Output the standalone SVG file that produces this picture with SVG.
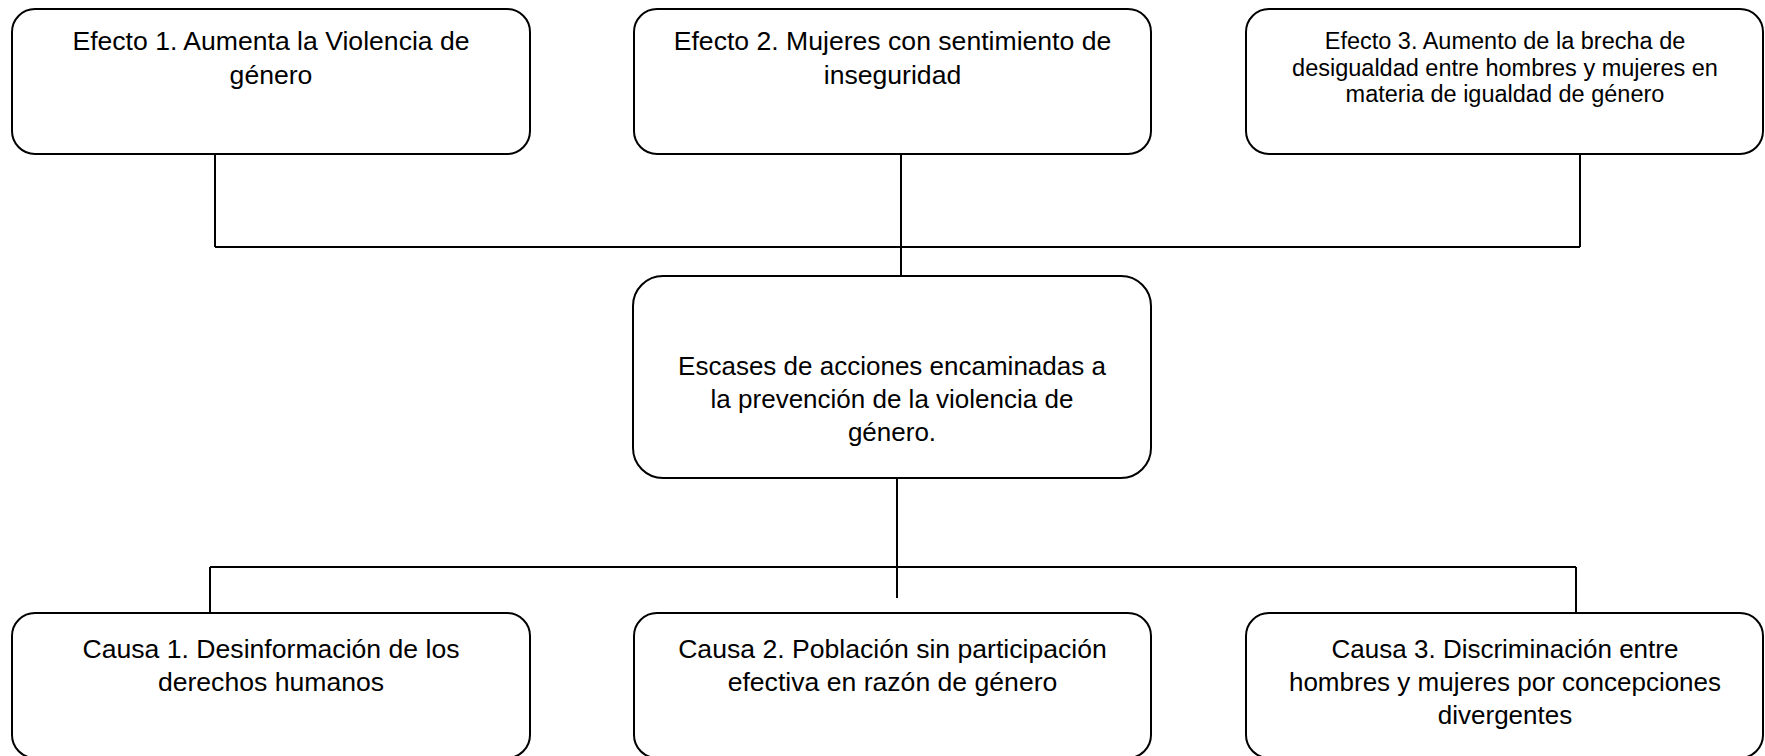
<svg xmlns="http://www.w3.org/2000/svg" width="1765" height="756" viewBox="0 0 1765 756">
<style>
.box{fill:#fff;stroke:#000;stroke-width:2}
.ln{fill:none;stroke:#000;stroke-width:2}
.t{font-family:"Liberation Sans",Arial,sans-serif;font-size:26px;fill:#000;text-anchor:middle}
.w{font-size:26.6px}
.s{font-size:23.5px}
</style>
<rect width="1765" height="756" fill="#fff"/>
<g id="connectors">
<path class="ln" d="M215 154V247M1580 154V247M215 247H1580M901 154V278"/>
<path class="ln" d="M897 475V598M210 567H1576M210 567V613M1576 567V613"/>
</g>
<g id="efecto1">
<rect class="box" x="12" y="9" width="518" height="145" rx="23"/>
<text class="t w" x="271" y="50">Efecto 1. Aumenta la Violencia de</text>
<text class="t w" x="271" y="84">género</text>
</g>
<g id="efecto2">
<rect class="box" x="634" y="9" width="517" height="145" rx="23"/>
<text class="t w" x="892.5" y="50">Efecto 2. Mujeres con sentimiento de</text>
<text class="t w" x="892.5" y="84">inseguridad</text>
</g>
<g id="efecto3">
<rect class="box" x="1246" y="9" width="517" height="145" rx="23"/>
<text class="t s" x="1505" y="49">Efecto 3. Aumento de la brecha de</text>
<text class="t s" x="1505" y="76">desigualdad entre hombres y mujeres en</text>
<text class="t s" x="1505" y="102">materia de igualdad de género</text>
</g>
<g id="problema">
<rect class="box" x="633" y="276" width="518" height="202" rx="30"/>
<text class="t" x="892" y="375">Escases de acciones encaminadas a</text>
<text class="t" x="892" y="408">la prevención de la violencia de</text>
<text class="t" x="892" y="441">género.</text>
</g>
<g id="causa1">
<rect class="box" x="12" y="613" width="518" height="145" rx="23"/>
<text class="t w" x="271" y="658">Causa 1. Desinformación de los</text>
<text class="t w" x="271" y="691">derechos humanos</text>
</g>
<g id="causa2">
<rect class="box" x="634" y="613" width="517" height="145" rx="23"/>
<text class="t w" x="892.5" y="658">Causa 2. Población sin participación</text>
<text class="t w" x="892.5" y="691">efectiva en razón de género</text>
</g>
<g id="causa3">
<rect class="box" x="1246" y="613" width="517" height="145" rx="23"/>
<text class="t" x="1505" y="658">Causa 3. Discriminación entre</text>
<text class="t" x="1505" y="691">hombres y mujeres por concepciones</text>
<text class="t" x="1505" y="724">divergentes</text>
</g>
</svg>
